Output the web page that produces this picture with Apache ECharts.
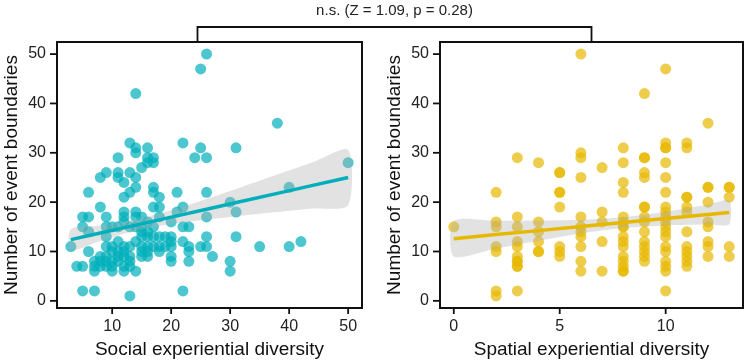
<!DOCTYPE html>
<html><head><meta charset="utf-8">
<script src="https://cdn.jsdelivr.net/npm/echarts@6/dist/echarts.min.js"></script>
<style>html,body{margin:0;padding:0;background:#fff}#c{width:748px;height:364px}</style>
</head><body><div id="c"></div>
<script>
// ---- Left panel: social experiential diversity ----
const socialDiversity = [26,25,14,38,13,22,14,16,25,31,14,11,16,17,24,26,16,17,50,15,9,11,13,8,11,14,12,14,17,40,6,13,17,21,26,12,18,30,8,17,18,22,12,14,21,31,5,6,9,12,14,15,18,26,12,16,20,5,9,10,11,13,14,15,17,22,23,6,16,15,9,15,16,17,18,19,26,31,20,14,20,22,42,11,3,9,10,12,13,15,16,17,18,19,20,23,25,26,35,40,6,11,12,15,16,18,23,10,8,9,11,12,13,15,16,20,27,7,8,9,10,11,13,20,23,30,4,5,7,8,9,10,12,13,7,10,12,14,30,5,7,22,13];
const socialBoundaries = [50,47,42,36,32,32,31,31,31,31,30,29,29,29,29,29,28,28,28,27,26,26,26,25,25,25,24,23,23,23,22,22,22,22,22,21,21,20,19,19,19,19,18,18,18,18,17,17,17,17,17,17,17,17,16,16,16,15,15,15,15,15,15,15,15,15,15,14,14,14,13,13,13,13,13,13,13,13,13,12,12,12,12,12,11,11,11,11,11,11,11,11,11,11,11,11,11,11,11,11,10,10,10,10,10,10,10,10,9,9,9,9,9,9,9,9,9,8,8,8,8,8,8,8,8,8,7,7,7,7,7,7,7,7,6,6,6,6,6,2,2,2,1];
const socialFitX    = [3, 8, 14, 20, 26, 32, 38, 44, 50];
const socialFitMid  = [12.4, 13.74, 15.35, 16.96, 18.56, 20.17, 21.78, 23.39, 25.0];
const socialFitLow  = [10.25, 12.2, 14.2, 15.55, 16.46, 17.25, 17.98, 18.69, 19.39];
const socialFitHigh = [14.55, 15.28, 16.5, 18.37, 20.66, 23.09, 25.58, 28.09, 30.61];
const socialTicks = [10, 20, 30, 40, 50];

// ---- Right panel: spatial experiential diversity ----
const spatialDiversity = [0,2,2,2,2,2,2,2,3,3,3,3,3,3,3,3,3,3,3,4,4,4,4,4,4,5,5,5,5,5,5,5,5,6,6,6,6,6,6,6,6,6,6,6,7,7,7,7,7,8,8,8,8,8,8,8,8,8,8,8,8,8,8,8,8,9,9,9,9,9,9,9,9,9,9,9,9,9,9,9,10,10,10,10,10,10,10,10,10,10,10,10,10,10,10,10,10,10,10,10,11,11,11,11,11,11,11,11,11,11,11,11,12,12,12,12,12,12,12,12,12,13,13,13,13,13];
const spatialBoundaries = [15,22,16,15,11,10,2,1,29,17,15,12,11,9,8,8,7,7,2,28,16,14,12,10,10,26,26,22,22,19,11,10,9,50,30,29,25,17,15,14,13,11,8,6,27,18,16,12,6,31,28,24,22,17,16,15,15,13,12,11,9,8,7,6,6,42,29,29,26,25,19,19,17,16,14,12,11,10,9,8,47,32,31,31,28,25,22,19,18,17,16,15,14,13,11,10,8,7,6,2,32,31,21,21,19,18,14,11,10,9,8,7,36,23,23,20,16,15,12,11,9,23,23,21,11,9];
const spatialFitX    = [0, 2, 4, 6, 8, 10, 12, 13];
const spatialFitMid  = [12.6, 13.42, 14.23, 15.05, 15.86, 16.68, 17.49, 17.9];
const spatialFitLow  = [9.0, 10.63, 12.19, 13.66, 14.76, 15.29, 15.46, 15.5];
const spatialFitHigh = [16.2, 16.21, 16.27, 16.44, 16.96, 18.07, 19.52, 20.3];
const spatialTicks = [0, 5, 10];

const yTicks = [0, 10, 20, 30, 40, 50];
const statLabel = 'n.s. (Z = 1.09, p = 0.28)';
const yTitle = 'Number of event boundaries';
const xTitles = ['Social experiential diversity', 'Spatial experiential diversity'];

const TEAL = '#00AFBB', GOLD = '#E7B800';
const FONT = '"Liberation Sans", Arial, Helvetica, sans-serif';
const Y_MIN = -1.45, Y_MAX = 52.45;
const X_RANGES = [[0.65, 52.35], [-0.65, 13.65]];

function zip(a, b) { return a.map((v, i) => [v, b[i]]); }

function bandSeries(idx, xs, lo, hi) {
  return {
    type: 'custom', xAxisIndex: idx, yAxisIndex: idx, z: 3, silent: true,
    data: [[xs[0], lo[0]]],
    renderItem: function (params, api) {
      const pts = [];
      for (let i = 0; i < xs.length; i++) pts.push(api.coord([xs[i], hi[i]]));
      for (let i = xs.length - 1; i >= 0; i--) pts.push(api.coord([xs[i], lo[i]]));
      return { type: 'polygon', shape: { points: pts, smooth: 0.25 }, style: { fill: 'rgba(175,175,175,0.36)' } };
    }
  };
}

function xAxis(idx, ticks, title) {
  return {
    type: 'value', gridIndex: idx, min: X_RANGES[idx][0], max: X_RANGES[idx][1],
    name: title, nameLocation: 'middle', nameGap: 32,
    nameTextStyle: { fontSize: 19, color: '#111', fontFamily: FONT },
    axisLine: { show: false, onZero: false },
    axisTick: { show: false },
    axisLabel: { customValues: ticks, fontSize: 16, color: '#222', fontFamily: FONT, margin: 11 },
    splitLine: { show: false }
  };
}
function yAxis(idx) {
  return {
    type: 'value', gridIndex: idx, min: Y_MIN, max: Y_MAX,
    name: yTitle, nameLocation: 'middle', nameGap: 36,
    nameTextStyle: { fontSize: 19, color: '#111', fontFamily: FONT },
    axisLine: { show: false, onZero: false },
    axisTick: { show: false },
    axisLabel: { customValues: yTicks, fontSize: 16, color: '#222', fontFamily: FONT, margin: 11 },
    splitLine: { show: false }
  };
}

const chart = echarts.init(document.getElementById('c'), null, { renderer: 'canvas' });
chart.setOption({
  animation: false,
  backgroundColor: '#fff',
  grid: [
    { left: 57, top: 42, width: 305, height: 268, show: true, borderColor: '#111', borderWidth: 2, backgroundColor: 'transparent' },
    { left: 440, top: 42, width: 303, height: 268, show: true, borderColor: '#111', borderWidth: 2, backgroundColor: 'transparent' }
  ],
  xAxis: [ xAxis(0, socialTicks, xTitles[0]), xAxis(1, spatialTicks, xTitles[1]) ],
  yAxis: [ yAxis(0), yAxis(1) ],
  series: [
    { type: 'scatter', xAxisIndex: 0, yAxisIndex: 0, z: 2, symbolSize: 11,
      itemStyle: { color: TEAL, opacity: 0.7 }, data: zip(socialDiversity, socialBoundaries) },
    bandSeries(0, socialFitX, socialFitLow, socialFitHigh),
    { type: 'line', xAxisIndex: 0, yAxisIndex: 0, z: 4, showSymbol: false, symbol: 'none',
      lineStyle: { color: TEAL, width: 3.5 }, data: zip(socialFitX, socialFitMid) },
    { type: 'scatter', xAxisIndex: 1, yAxisIndex: 1, z: 2, symbolSize: 11,
      itemStyle: { color: GOLD, opacity: 0.7 }, data: zip(spatialDiversity, spatialBoundaries) },
    bandSeries(1, spatialFitX, spatialFitLow, spatialFitHigh),
    { type: 'line', xAxisIndex: 1, yAxisIndex: 1, z: 4, showSymbol: false, symbol: 'none',
      lineStyle: { color: GOLD, width: 3.5 }, data: zip(spatialFitX, spatialFitMid) }
  ]
});

// Outward tick marks (filled rects) and the comparison bracket, positioned through the axes' scales.
const graphics = [];
[socialTicks, spatialTicks].forEach(function (xTicks, gi) {
  const xmin = X_RANGES[gi][0];
  yTicks.forEach(function (v) {
    const p = chart.convertToPixel({ gridIndex: gi }, [xmin, v]);
    graphics.push({ type: 'rect', shape: { x: Math.round(p[0]) - 7, y: p[1] - 0.9, width: 7, height: 1.8 },
      style: { fill: '#111' }, z: 100 });
  });
  xTicks.forEach(function (v) {
    const p = chart.convertToPixel({ gridIndex: gi }, [v, Y_MIN]);
    graphics.push({ type: 'rect', shape: { x: p[0] - 0.9, y: Math.round(p[1]), width: 1.8, height: 6 },
      style: { fill: '#111' }, z: 100 });
  });
});
const leftTop = chart.convertToPixel({ gridIndex: 0 }, [(X_RANGES[0][0] + X_RANGES[0][1]) / 2, Y_MAX]);
const rightTop = chart.convertToPixel({ gridIndex: 1 }, [(X_RANGES[1][0] + X_RANGES[1][1]) / 2, Y_MAX]);
const bracketY = leftTop[1] - 15;
graphics.push({ type: 'polyline',
  shape: { points: [[leftTop[0] - 12, leftTop[1]], [leftTop[0] - 12, bracketY], [rightTop[0], bracketY], [rightTop[0], rightTop[1]]] },
  style: { stroke: '#111', lineWidth: 1.8, fill: null }, z: 20 });
graphics.push({ type: 'text', x: (leftTop[0] - 12 + rightTop[0]) / 2, y: 11,
  style: { text: statLabel, fontSize: 15, fill: '#222', fontFamily: FONT, align: 'center', verticalAlign: 'middle' }, z: 20 });
chart.setOption({ graphic: graphics });
</script></body></html>
